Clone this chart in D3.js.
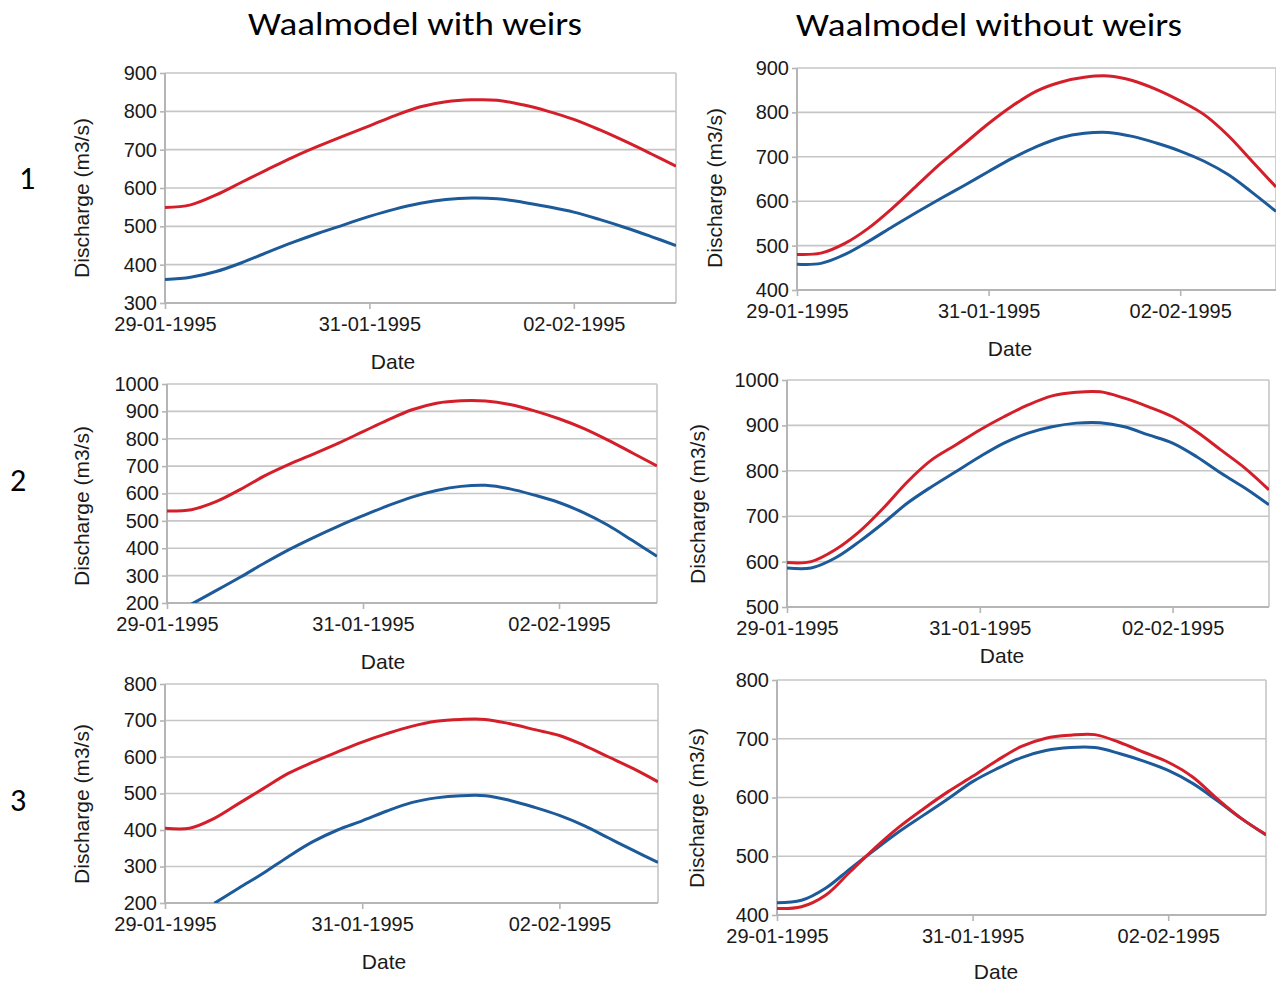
<!DOCTYPE html>
<html>
<head>
<meta charset="utf-8">
<script src="https://cdn.jsdelivr.net/npm/d3@7"></script>
<style>
  html, body { margin: 0; padding: 0; background: #ffffff; }
  svg { display: block; }
  .tick-label { font-family: "Liberation Sans", Arial, sans-serif; font-size: 20px; fill: #1a1a1a; }
  .axis-title { font-family: "Liberation Sans", Arial, sans-serif; font-size: 21px; fill: #1a1a1a; }
  .heading { font-family: Carlito, Lato, "Open Sans", sans-serif; font-size: 32px; fill: #000; }
</style>
</head>
<body>
<svg id="chart" width="1276" height="983"></svg>
<script>
// Model output sampled every 6 hours from 29-01-1995 00:00 to 03-02-1995 00:00
const hoursFromStart = [0, 6, 12, 18, 24, 30, 36, 42, 48, 54, 60, 66, 72, 78, 84, 90, 96, 102, 108, 114, 120];
const dateTicks = ["29-01-1995", "31-01-1995", "02-02-1995"];
const columnTitles = ["Waalmodel with weirs", "Waalmodel without weirs"];
const rowLabels = ["1", "2", "3"];

// Discharge (m3/s), case 1
const withWeirs1Red  = [549, 556, 582, 615, 648, 680, 709, 736, 762, 789, 812, 825, 830, 829, 817, 800, 779, 752, 722, 690, 657];
const withWeirs1Blue = [361, 367, 382, 405, 432, 458, 482, 504, 526, 545, 560, 570, 574, 572, 563, 551, 537, 518, 497, 474, 450];
const noWeirs1Red    = [480, 483, 505, 540, 585, 635, 685, 730, 775, 815, 848, 868, 879, 882, 872, 852, 826, 795, 748, 690, 632];
const noWeirs1Blue   = [458, 460, 480, 510, 543, 575, 606, 636, 667, 697, 723, 743, 753, 755, 746, 731, 713, 690, 660, 620, 577];

// Discharge (m3/s), case 2
const withWeirs2Red  = [536, 541, 570, 615, 665, 707, 745, 784, 826, 868, 906, 930, 939, 938, 925, 902, 873, 838, 795, 748, 701];
const withWeirs2Blue = [null, 196, 245, 295, 347, 396, 440, 481, 519, 555, 587, 611, 626, 630, 617, 594, 567, 530, 484, 428, 371];
const noWeirs2Red    = [598, 600, 626, 666, 718, 776, 824, 857, 890, 919, 945, 965, 973, 974, 960, 941, 919, 886, 846, 806, 758];
const noWeirs2Blue   = [586, 586, 608, 644, 685, 729, 765, 798, 831, 861, 883, 897, 905, 906, 897, 879, 861, 831, 795, 762, 725];

// Discharge (m3/s), case 3
const withWeirs3Red  = [405, 405, 432, 473, 514, 555, 586, 614, 641, 664, 684, 698, 703, 703, 691, 675, 659, 632, 600, 568, 532];
const withWeirs3Blue = [null, null, 199, 241, 282, 327, 368, 400, 425, 452, 475, 488, 494, 494, 481, 462, 440, 412, 378, 344, 311];
const noWeirs3Red    = [411, 414, 434, 474, 514, 550, 581, 610, 636, 663, 687, 701, 706, 707, 694, 677, 660, 635, 598, 564, 537];
const noWeirs3Blue   = [421, 425, 446, 479, 511, 542, 570, 598, 627, 649, 668, 680, 685, 685, 675, 662, 646, 624, 595, 564, 536];

// Value axis ranges per panel
const yRanges = [[300, 900], [400, 900], [200, 1000], [500, 1000], [200, 800], [400, 800]];

const RED = "#d41f2b";
const BLUE = "#1d5a9a";

const parseDay = d3.timeParse("%d-%m-%Y");
const fmtDay = d3.timeFormat("%d-%m-%Y");
const start = parseDay("29-01-1995");
const end = parseDay("03-02-1995");
const times = hoursFromStart.map(h => new Date(start.getTime() + h * 3600e3));

// Frame of each plot area and placement of its axis titles
const panels = [
  { x0: 165, x1: 676, y0: 73,  y1: 303, red: withWeirs1Red, blue: withWeirs1Blue, yr: yRanges[0], ylab: [82, 198],  date: [393, 362] },
  { x0: 797, x1: 1276, y0: 68, y1: 290, red: noWeirs1Red,   blue: noWeirs1Blue,   yr: yRanges[1], ylab: [715, 188], date: [1010, 349] },
  { x0: 167, x1: 657, y0: 384, y1: 603, red: withWeirs2Red, blue: withWeirs2Blue, yr: yRanges[2], ylab: [82, 506],  date: [383, 662] },
  { x0: 787, x1: 1269, y0: 380, y1: 607, red: noWeirs2Red,  blue: noWeirs2Blue,   yr: yRanges[3], ylab: [698, 504], date: [1002, 656] },
  { x0: 165, x1: 658, y0: 684, y1: 903, red: withWeirs3Red, blue: withWeirs3Blue, yr: yRanges[4], ylab: [82, 804],  date: [384, 962] },
  { x0: 777, x1: 1266, y0: 680, y1: 915, red: noWeirs3Red,  blue: noWeirs3Blue,   yr: yRanges[5], ylab: [697, 808], date: [996, 972] }
];

const svg = d3.select("#chart");

// Column headings and row numbers
svg.append("text").attr("class", "heading").attr("x", 415).attr("y", 35)
  .attr("text-anchor", "middle").attr("textLength", 334).attr("lengthAdjust", "spacingAndGlyphs")
  .text(columnTitles[0]);
svg.append("text").attr("class", "heading").attr("x", 989).attr("y", 36)
  .attr("text-anchor", "middle").attr("textLength", 386).attr("lengthAdjust", "spacingAndGlyphs")
  .text(columnTitles[1]);
const rowPos = [[27, 189], [18, 491], [18, 811]];
rowLabels.forEach((r, i) => {
  svg.append("text").attr("class", "heading").attr("x", rowPos[i][0]).attr("y", rowPos[i][1])
    .attr("text-anchor", "middle").text(r);
});

const tickDates = dateTicks.map(parseDay);

panels.forEach((p, i) => {
  const x = d3.scaleTime().domain([start, end]).range([p.x0, p.x1]);
  const y = d3.scaleLinear().domain(p.yr).range([p.y1, p.y0]);
  const yTicks = d3.range(p.yr[0], p.yr[1] + 1, 100);
  const g = svg.append("g");

  // horizontal grid
  g.append("g").selectAll("line").data(yTicks).join("line")
    .attr("x1", p.x0).attr("x2", p.x1)
    .attr("y1", d => y(d)).attr("y2", d => y(d))
    .attr("stroke", "#c6c6c6").attr("stroke-width", 1.6);
  // right edge of plot area
  g.append("line").attr("x1", p.x1).attr("x2", p.x1).attr("y1", p.y0).attr("y2", p.y1)
    .attr("stroke", "#c6c6c6").attr("stroke-width", 1.6);

  // axes
  const yAxis = d3.axisLeft(y).tickValues(yTicks).tickSize(5).tickPadding(3).tickFormat(d3.format("d"));
  const xAxis = d3.axisBottom(x).tickValues(tickDates).tickSize(6).tickPadding(4).tickFormat(fmtDay);
  const ya = g.append("g").attr("transform", `translate(${p.x0},0)`).call(yAxis);
  const xa = g.append("g").attr("transform", `translate(0,${p.y1})`).call(xAxis);
  [ya, xa].forEach(a => {
    a.select(".domain").attr("stroke", "#b5b5b5").attr("stroke-width", 2);
    a.selectAll(".tick line").attr("stroke", "#b5b5b5").attr("stroke-width", 1.6);
    a.selectAll(".tick text").attr("class", "tick-label").attr("fill", null);
  });
  xa.select(".domain").attr("d", `M${p.x0},0H${p.x1}`);
  ya.select(".domain").attr("d", `M0,${y(p.yr[1])}V${y(p.yr[0])}`);
  xa.selectAll(".tick text").attr("dy", "0.9em");

  // series, clipped to the plot area
  const clipId = "clip" + i;
  svg.append("clipPath").attr("id", clipId).append("rect")
    .attr("x", p.x0).attr("y", p.y0 - 2).attr("width", p.x1 - p.x0).attr("height", p.y1 - p.y0 + 2);
  const line = d3.line()
    .defined(d => d[1] != null)
    .x(d => x(d[0])).y(d => y(d[1]))
    .curve(d3.curveCatmullRom.alpha(0.5));
  [[p.blue, BLUE], [p.red, RED]].forEach(([vals, col]) => {
    g.append("path")
      .datum(times.map((t, k) => [t, vals[k]]))
      .attr("clip-path", `url(#${clipId})`)
      .attr("fill", "none").attr("stroke", col).attr("stroke-width", 3)
      .attr("stroke-linejoin", "round")
      .attr("d", line);
  });

  // axis titles
  g.append("text").attr("class", "axis-title")
    .attr("transform", `translate(${p.ylab[0]},${p.ylab[1]}) rotate(-90)`)
    .attr("text-anchor", "middle").attr("dy", "0.35em").text("Discharge (m3/s)");
  g.append("text").attr("class", "axis-title")
    .attr("x", p.date[0]).attr("y", p.date[1]).attr("dy", "0.35em")
    .attr("text-anchor", "middle").text("Date");
});
</script>
</body>
</html>
